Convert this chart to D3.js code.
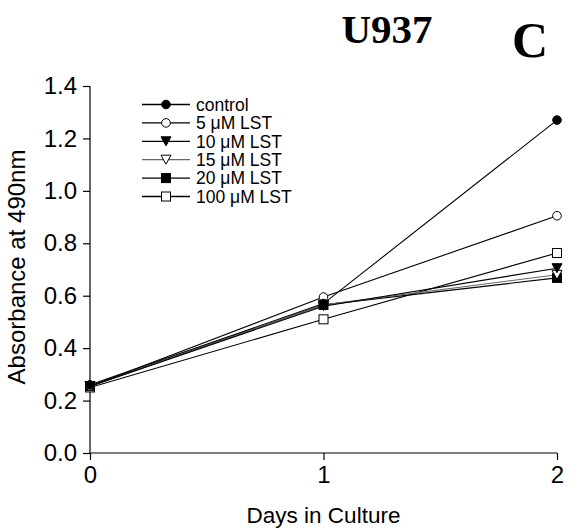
<!DOCTYPE html>
<html>
<head>
<meta charset="utf-8">
<script src="https://cdn.jsdelivr.net/npm/d3@7"></script>
<style>
  body { margin: 0; background: #fff; }
  svg { display: block; font-family: Arial, "Liberation Sans", sans-serif; }
</style>
</head>
<body>
<svg id="chart" width="572" height="532"></svg>
<script>
const days = [0, 1, 2];
const seriesNames = ["control", "5 μM LST", "10 μM LST", "15 μM LST", "20 μM LST", "100 μM LST"];
const control = [0.26, 0.57, 1.27];
const lst5 = [0.255, 0.595, 0.905];
const lst10 = [0.255, 0.56, 0.705];
const lst15 = [0.255, 0.565, 0.68];
const lst20 = [0.255, 0.565, 0.668];
const lst100 = [0.25, 0.51, 0.763];
const yTicks = [0, 0.2, 0.4, 0.6, 0.8, 1.0, 1.2, 1.4];

const series = [
  { name: seriesNames[0], values: control, shape: "circle", fill: "#000", line: "#000" },
  { name: seriesNames[1], values: lst5, shape: "circle", fill: "#fff", line: "#000" },
  { name: seriesNames[2], values: lst10, shape: "tri", fill: "#000", line: "#000" },
  { name: seriesNames[3], values: lst15, shape: "tri", fill: "#fff", line: "#666" },
  { name: seriesNames[4], values: lst20, shape: "square", fill: "#000", line: "#000" },
  { name: seriesNames[5], values: lst100, shape: "square", fill: "#fff", line: "#000" }
];

const svg = d3.select("#chart");

const x = d3.scaleLinear().domain([0, 2]).range([90, 557]);
const y = d3.scaleLinear().domain([0, 1.4]).range([453, 86]);

// axes
svg.append("g")
   .attr("transform", `translate(0,${y(0)})`)
   .call(d3.axisBottom(x).tickValues(days).tickFormat(d3.format("d")).tickSize(7).tickPadding(6))
   .call(g => g.select(".domain").attr("d", `M${x(0)},0H${x(2)}`))
   .call(g => g.selectAll("text").attr("font-size", 24).attr("font-family", "Arial, 'Liberation Sans', sans-serif"));

svg.append("g")
   .attr("transform", `translate(${x(0)},0)`)
   .call(d3.axisLeft(y).tickValues(yTicks).tickFormat(d3.format(".1f")).tickSize(7).tickPadding(6))
   .call(g => g.select(".domain").attr("d", `M0,${y(1.4)}V${y(0)}`))
   .call(g => g.selectAll("text").attr("font-size", 24).attr("font-family", "Arial, 'Liberation Sans', sans-serif"));

svg.selectAll(".domain, .tick line").attr("stroke", "#000").attr("stroke-width", 1.2);

// axis titles
svg.append("text")
   .attr("x", (x(0) + x(2)) / 2)
   .attr("y", 523)
   .attr("text-anchor", "middle")
   .attr("font-size", 22.5)
   .text("Days in Culture");

svg.append("text")
   .attr("transform", `translate(25,${267}) rotate(-90)`)
   .attr("text-anchor", "middle")
   .attr("font-size", 24)
   .text("Absorbance at 490nm");

// titles
svg.append("text")
   .attr("x", 387).attr("y", 43)
   .attr("text-anchor", "middle")
   .attr("font-family", "'Liberation Serif', 'Times New Roman', serif")
   .attr("font-weight", "bold")
   .attr("font-size", 41)
   .text("U937");

svg.append("text")
   .attr("x", 530).attr("y", 57)
   .attr("text-anchor", "middle")
   .attr("font-family", "'Liberation Serif', 'Times New Roman', serif")
   .attr("font-weight", "bold")
   .attr("font-size", 50)
   .text("C");

function drawMarker(g, s, cx, cy) {
  if (s.shape === "circle") {
    g.append("circle").attr("cx", cx).attr("cy", cy).attr("r", 4.3)
     .attr("fill", s.fill).attr("stroke", "#000").attr("stroke-width", 1);
  } else if (s.shape === "square") {
    g.append("rect").attr("x", cx - 4.5).attr("y", cy - 4.5).attr("width", 9).attr("height", 9)
     .attr("fill", s.fill).attr("stroke", "#000").attr("stroke-width", 1);
  } else {
    g.append("path").attr("d", `M${cx - 5},${cy - 4.5}L${cx + 5},${cy - 4.5}L${cx},${cy + 4.5}Z`)
     .attr("fill", s.fill).attr("stroke", "#000").attr("stroke-width", 1);
  }
}

const line = d3.line().x((d, i) => x(days[i])).y(d => y(d));

const plot = svg.append("g");
series.slice().reverse().forEach(s => {
  plot.append("path")
      .attr("d", line(s.values))
      .attr("fill", "none")
      .attr("stroke", s.line)
      .attr("stroke-width", 1.1);
});
series.slice().reverse().forEach(s => {
  s.values.forEach((v, i) => drawMarker(plot, s, x(days[i]), y(v)));
});

// legend
const legend = svg.append("g");
series.forEach((s, i) => {
  const ly = 104.5 + i * 18.4;
  legend.append("line")
        .attr("x1", 142).attr("x2", 190)
        .attr("y1", ly).attr("y2", ly)
        .attr("stroke", s.line).attr("stroke-width", 1.3);
  drawMarker(legend, s, 166, ly);
  legend.append("text")
        .attr("x", 196).attr("y", ly + 6.2)
        .attr("font-size", 17.5)
        .text(s.name);
});
</script>
</body>
</html>
